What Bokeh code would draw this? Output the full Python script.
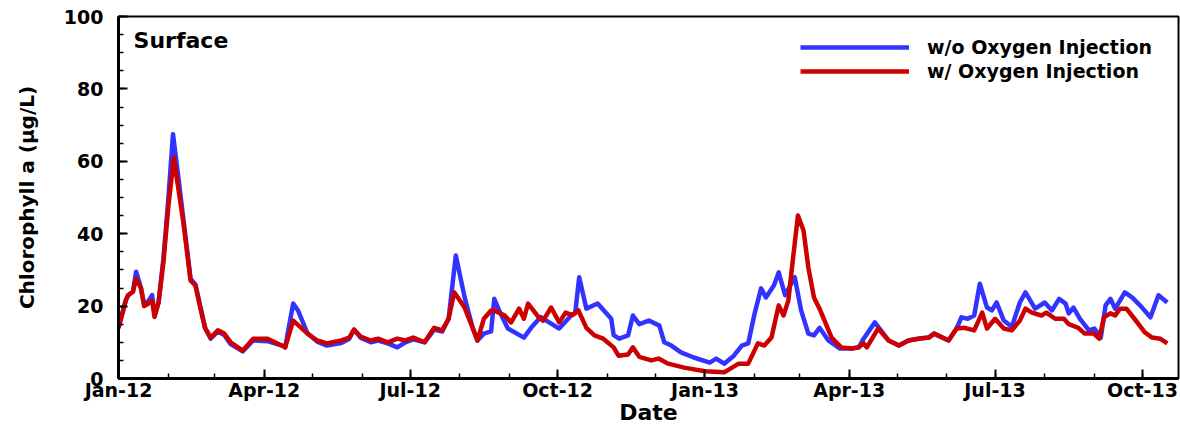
import pandas as pd
from bokeh.plotting import figure
from bokeh.models import (ColumnDataSource, Range1d, FixedTicker, DatetimeTickFormatter,
                          SingleIntervalTicker, Legend, LegendItem, Label)
from bokeh.embed import file_html
from bokeh.resources import INLINE

START = "2012-01-01"

# days since Jan 1 2012 and Chlorophyll a (ug/L), without oxygen injection
blue_days = [0, 4.5, 6, 9, 11, 14, 16, 18, 21, 22.5, 25, 28, 31, 34, 37.5, 40.5, 45, 48, 51, 54,
             57.5, 62, 66, 70, 77.5, 84, 93, 102.5, 104, 109, 112, 118, 124, 130, 139, 144, 147,
             151, 157.5, 162, 168, 174, 179, 184, 191, 197, 202, 206, 210.5, 216, 221, 224, 228,
             232.5, 234.5, 237.5, 243, 253, 257.5, 263.5, 267, 275, 282.5, 285, 287.5, 292, 299,
             307.5, 309, 312.5, 318, 321, 325, 331, 337.5, 340.6, 345, 351, 359, 369, 373, 378,
             384, 389, 393, 397, 401, 404, 409, 412, 416, 422, 426, 430.5, 434, 437.5, 443, 450,
             457.5, 462, 465, 472, 480.6, 487, 493, 499, 505.6, 509, 518, 523, 526, 530, 534,
             537.5, 542, 545, 548, 552.5, 557.5, 562.5, 566, 572, 578, 582.5, 587, 591, 593, 596,
             600, 605.6, 609, 613, 616, 619, 622, 628, 632.5, 637.5, 644, 649, 654.5]
blue_vals = [14, 21.5, 23, 24, 29.5, 25, 20.5, 21, 23, 17.5, 21, 33, 49, 67.5, 55, 44, 27.5, 26, 20, 14,
             11, 13, 12, 9.5, 7.5, 10.5, 10.3, 9, 8.6, 20.7, 18.8, 12.4, 10.2, 9.1, 9.8, 11, 13.5,
             11.3, 10, 10.5, 9.7, 8.6, 10, 10.8, 10, 13.5, 13, 16.5, 34, 22.4, 14, 10.5, 12.4,
             13, 22, 18.8, 13.8, 11.3, 14, 17, 16, 13.8, 17.4, 18, 28, 19.3, 20.7,
             16.5, 12, 11, 11.9, 17.4, 15, 16, 14.6, 10, 9.1, 7.2, 5.8, 4.4, 5.5, 4.1,
             6.3, 9.1, 9.7, 18, 24.9, 22.4, 25.7, 29.3, 23, 28, 18.8, 12.4, 11.9, 14, 10.5, 8.3,
             8.3, 8.6, 11, 15.5, 10.5, 9.1, 10.5, 11, 11.3, 12.4, 10.5, 13.8, 16.9, 16.5, 17.4,
             26.2, 19.6, 18.8, 21, 16, 14.3, 21, 23.8, 19.3, 21, 18.8, 22, 20.7, 18, 19.6,
             16.5, 13.3, 13.8, 11.3, 20.2, 22, 19.3, 23.8, 22.4, 20.2, 16.9, 23, 21]

# with oxygen injection
red_days = [0, 4.5, 6, 9, 11, 14, 16, 18, 21, 22.5, 25, 28, 31, 34.5, 37.5, 40.5, 45, 48, 51, 54,
            57.5, 62, 66, 70, 77.5, 84, 93, 102.5, 104, 109, 114, 118, 124, 130, 139, 144, 147,
            151, 157.5, 162, 168, 174, 179, 184, 191, 197, 202, 206, 209.5, 216, 221, 224, 228,
            232.5, 234.5, 241, 245, 250, 253, 255.6, 262, 265, 270, 275, 279, 283, 287, 292, 297,
            302.5, 309, 312, 318, 321, 325, 332.5, 337, 343, 353, 366, 378, 387, 393, 399, 403,
            407.5, 412, 415, 418, 421, 424, 427.5, 430.5, 434, 437.5, 440.6, 445, 451, 457.5,
            462, 465, 467, 474, 480.6, 487, 493, 499, 505.6, 509, 518, 523, 528, 534, 539, 542,
            547, 552.5, 557.5, 562.5, 566, 570, 576, 579, 584.5, 590, 593, 599, 603, 608.6, 612,
            615, 619, 622, 625, 629, 634, 640.6, 645, 650, 654.5]
red_vals = [14, 21.5, 23, 24, 27.6, 25, 20, 20.5, 21.5, 17, 21, 32, 47, 61, 52, 43, 27, 25.7, 19.6, 14,
            11.3, 13.3, 12.4, 10, 7.7, 11, 11, 9, 8.6, 16, 14, 12.4, 10.5, 9.7, 10.5, 11.3, 13.5,
            11.6, 10.5, 11, 10, 11, 10.5, 11.3, 10, 14, 13.3, 16.5, 23.8, 19.6, 14, 10.5, 16.5,
            18.8, 18.8, 17.4, 15.5, 19.3, 16.5, 20.7, 17, 16, 19.6, 15.5, 18.2, 17.5, 18.8, 14, 11.9,
            11, 8.6, 6.3, 6.6, 8.6, 6, 5, 5.5, 4.1, 3, 2, 1.7, 4.1, 4.1, 9.7, 9.1,
            11.3, 20.2, 17.4, 21.5, 33.4, 45, 40.9, 30.7, 22.4, 19.3, 16, 11.3, 8.6, 8.3,
            8.6, 9.7, 8.6, 13.8, 10.5, 9.1, 10.5, 11, 11.3, 12.4, 10.5, 13.8, 14, 13.3, 18.2, 13.8,
            16.5, 13.8, 13.3, 16, 19.3, 18.2, 17.4, 18.2, 16.5, 16.5, 15, 14, 12.4, 12.4, 11,
            16.9, 18, 17.4, 19.3, 19.3, 16.5, 12.7, 11.3, 11, 9.7]

y_ticks_interval = 20
x_major_ticks = pd.date_range("2012-01-01", "2013-10-01", freq="QS")
x_minor_ticks = pd.date_range("2012-01-01", "2013-10-01", freq="MS")
x_end_days = 661.5

start = pd.Timestamp(START)
def to_dates(days):
    return start + pd.to_timedelta(pd.Series(days, dtype=float), unit="D")

def ms(ts):
    return pd.Timestamp(ts).value / 1e6

blue_src = ColumnDataSource(dict(x=to_dates(blue_days), y=blue_vals))
red_src = ColumnDataSource(dict(x=to_dates(red_days), y=red_vals))

FONT = "DejaVu Sans"

p = figure(width=1180, height=427, x_axis_type="datetime", output_backend="svg",
           toolbar_location=None,
           x_range=Range1d(ms(start), ms(start + pd.Timedelta(days=x_end_days))),
           y_range=Range1d(0, 100),
           min_border_left=118, min_border_right=2, min_border_top=16, min_border_bottom=49)
p.background_fill_color = "white"
p.border_fill_color = "white"
p.outline_line_color = "black"
p.outline_line_width = 2
p.grid.visible = False

b = p.line("x", "y", source=blue_src, line_color="#3333FF", line_width=4.5, line_join="round")
r = p.line("x", "y", source=red_src, line_color="#CC0000", line_width=4.5, line_join="round")

p.xaxis.ticker = FixedTicker(ticks=[ms(t) for t in x_major_ticks],
                             minor_ticks=[ms(t) for t in x_minor_ticks])
fmt = "%b-%y"
p.xaxis.formatter = DatetimeTickFormatter(milliseconds=fmt, seconds=fmt, minsec=fmt, minutes=fmt,
                                          hourmin=fmt, hours=fmt, days=fmt, months=fmt, years=fmt,
                                          context=None)
p.yaxis.ticker = SingleIntervalTicker(interval=y_ticks_interval, num_minor_ticks=4)

for ax in (p.xaxis[0], p.yaxis[0]):
    ax.axis_line_width = 3
    ax.axis_line_color = "black"
    ax.major_tick_in = 9
    ax.major_tick_out = 0
    ax.minor_tick_in = 5
    ax.minor_tick_out = 0
    ax.major_tick_line_width = 2
    ax.minor_tick_line_width = 1.5
    ax.major_label_text_font = FONT
    ax.major_label_text_font_style = "bold"
    ax.major_label_text_font_size = "19px"
    ax.major_label_text_color = "black"
    ax.axis_label_text_font = FONT
    ax.axis_label_text_font_style = "bold"
    ax.axis_label_text_color = "black"

p.xaxis.axis_label = "Date"
p.xaxis.axis_label_text_font_size = "22px"
p.xaxis.major_label_standoff = 0
p.xaxis.axis_label_standoff = -4
p.yaxis.axis_label = "Chlorophyll a (μg/L)"
p.yaxis.axis_label_text_font_size = "20px"
p.yaxis.major_label_standoff = 15
p.yaxis.axis_label_standoff = 22

legend = Legend(items=[LegendItem(label="w/o Oxygen Injection", renderers=[b]),
                       LegendItem(label="w/ Oxygen Injection", renderers=[r])],
                location=(682, 295), glyph_width=109, glyph_height=24, label_height=24,
                label_standoff=18, padding=0, margin=0, spacing=0,
                border_line_alpha=0, background_fill_alpha=0,
                label_text_font=FONT, label_text_font_style="bold", label_text_font_size="19px",
                label_text_color="black")
p.add_layout(legend)

p.add_layout(Label(x=ms(start + pd.Timedelta(days=9.4)), y=93.4, text="Surface",
                   text_baseline="middle", text_font=FONT, text_font_style="bold",
                   text_font_size="22px", text_color="black"))

open("out.html", "w").write(file_html(p, INLINE))
